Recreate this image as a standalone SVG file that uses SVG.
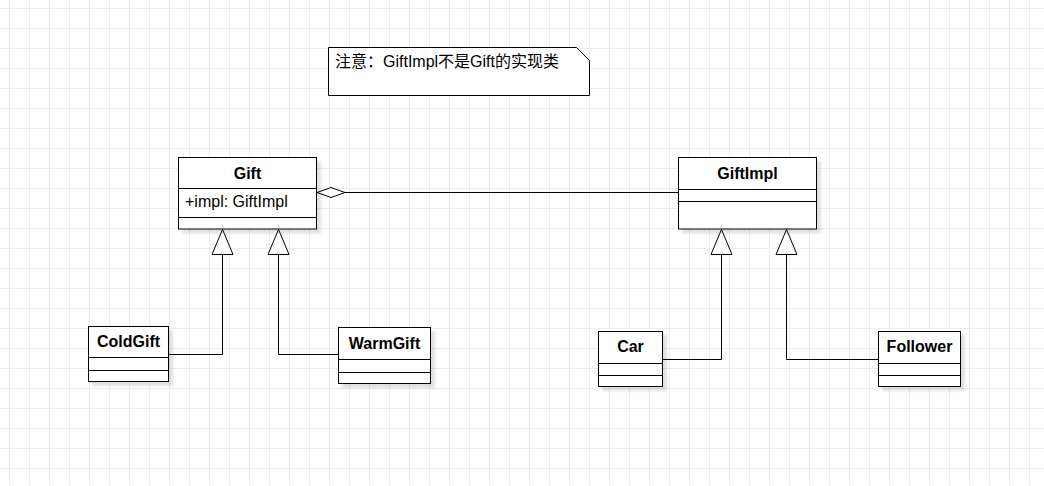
<svg xmlns="http://www.w3.org/2000/svg" width="1044" height="486" viewBox="0 0 1044 486">
<defs>
<pattern id="grid" x="9.5" y="8.5" width="20" height="20" patternUnits="userSpaceOnUse">
<path d="M0.5,0 V20 M0,0.5 H20" fill="none" stroke="#ececec" stroke-width="1"/>
</pattern>
<filter id="sh" x="-20%" y="-20%" width="140%" height="140%">
<feGaussianBlur in="SourceAlpha" stdDeviation="1.5"/>
<feOffset dx="4" dy="4" result="b"/>
<feComponentTransfer><feFuncA type="linear" slope="0.12"/></feComponentTransfer>
<feMerge><feMergeNode/><feMergeNode in="SourceGraphic"/></feMerge>
</filter>
</defs>
<style>
.box{fill:#fff;stroke:#000;stroke-width:1}
.ln{fill:none;stroke:#000;stroke-width:1}
.t{font-family:"Liberation Sans",Arial,sans-serif;font-size:16px;fill:#000}
.b{font-weight:bold;text-anchor:middle}
.tri{fill:#fff;stroke:#000;stroke-width:1}
</style>
<rect x="0" y="0" width="1044" height="486" fill="#fff"/>
<rect x="0" y="0" width="1044" height="486" fill="url(#grid)" transform="translate(-0.5,-0.5)"/>

<g id="note">
<path d="M328.5,47.5 H576.5 L589.5,60.5 V95.5 H328.5 Z" class="box"/>
<text x="335" y="67" class="t" style="font-family:'Liberation Sans','Noto Sans CJK SC',sans-serif">注意：GiftImpl不是Gift的实现类</text>
</g>

<g id="connectors">
<path d="M345,192.5 H678.5" class="ln"/>
<path d="M317,192.5 L331,187.5 L345,192.5 L331,197.5 Z" class="tri"/>
<path d="M168.5,354.5 H222.5 V254" class="ln"/>
<path d="M222.5,229.5 L233,254.5 L212,254.5 Z" class="tri"/>
<path d="M338.5,354.5 H278.5 V254" class="ln"/>
<path d="M278.5,229.5 L289,254.5 L268,254.5 Z" class="tri"/>
<path d="M662.5,359.5 H721.5 V254" class="ln"/>
<path d="M721.5,229.5 L732,254.5 L711,254.5 Z" class="tri"/>
<path d="M878.5,359.5 H786.5 V254" class="ln"/>
<path d="M786.5,229.5 L797,254.5 L776,254.5 Z" class="tri"/>
</g>

<g id="Gift">
<rect x="178.5" y="157.5" width="138" height="71.5" class="box" filter="url(#sh)"/>
<path d="M178.5,188.5 H316.5 M178.5,217.5 H316.5" class="ln"/>
<text x="247.5" y="179" class="t b">Gift</text>
<text x="185" y="207" class="t">+impl: GiftImpl</text>
</g>

<g id="GiftImpl">
<rect x="678.5" y="157.5" width="138" height="71.5" class="box" filter="url(#sh)"/>
<path d="M678.5,189.5 H816.5 M678.5,201.5 H816.5" class="ln"/>
<text x="747.5" y="179" class="t b">GiftImpl</text>
</g>

<g id="ColdGift">
<rect x="88.5" y="326.5" width="80" height="55" class="box" filter="url(#sh)"/>
<path d="M88.5,357.5 H168.5 M88.5,370.5 H168.5" class="ln"/>
<text x="128.5" y="347" class="t b">ColdGift</text>
</g>

<g id="WarmGift">
<rect x="338.5" y="327.5" width="92" height="56" class="box" filter="url(#sh)"/>
<path d="M338.5,359.5 H430.5 M338.5,372.5 H430.5" class="ln"/>
<text x="384.5" y="349" class="t b">WarmGift</text>
</g>

<g id="Car">
<rect x="598.5" y="331.5" width="64" height="55" class="box" filter="url(#sh)"/>
<path d="M598.5,363.5 H662.5 M598.5,375.5 H662.5" class="ln"/>
<text x="630.5" y="352" class="t b">Car</text>
</g>

<g id="Follower">
<rect x="878.5" y="331.5" width="82" height="55" class="box" filter="url(#sh)"/>
<path d="M878.5,363.5 H960.5 M878.5,375.5 H960.5" class="ln"/>
<text x="919.5" y="352" class="t b">Follower</text>
</g>
</svg>
